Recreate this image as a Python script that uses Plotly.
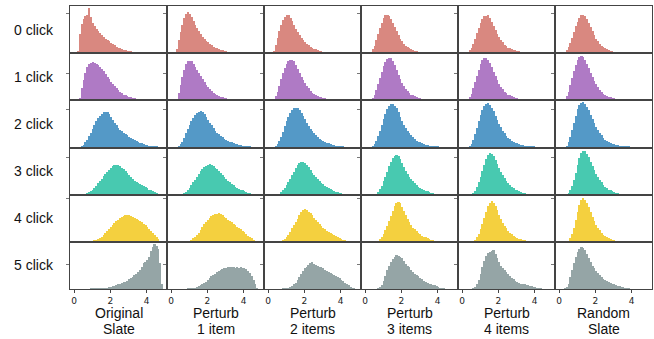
import plotly.graph_objects as go
from plotly.subplots import make_subplots

# ---------------- data (relative bar height, % of panel height) ----------------
# bins are 0.1 wide, starting at x = 0.0
BIN_WIDTH = 0.1

row_labels = ["0 click", "1 click", "2 click", "3 click", "4 click", "5 click"]
col_titles = [["Original", "Slate"], ["Perturb", "1 item"], ["Perturb", "2 items"],
              ["Perturb", "3 items"], ["Perturb", "4 items"], ["Random", "Slate"]]
colors = ["#D98880", "#AF7AC5", "#5499C7", "#48C9B0", "#F4D03F", "#95A5A6"]
x_ticks = [0, 2, 4]
y_tick_per_row = [84, 57, 80, 78, 91, 53]

click0 = [
    [0,0,5,40,62,72,78,80,95,76, 64,58,52,47,42,38,34,30,27,25, 22,19,17,14,12,10,9,7,6,5, 4,4,3,3,2,2,1,1,1,0.5, 0.5],
    [0,0,0,8,28,45,60,75,84,87, 83,76,68,60,53,46,40,35,30,26, 23,20,17,14,12,10,9,7,6,5, 4,3,3,2,2,1,1,1,0.5],
    [0,0,0,5,18,32,47,60,70,77, 81,80,75,68,60,52,45,39,33,28, 24,20,17,14,11,9,8,6,5,4, 3,3,2,2,1,1,1,0.5],
    [0,0,0,2,8,15,27,40,53,65, 74,80,81,78,72,64,55,46,38,31, 25,20,16,13,10,8,6,5,4,3, 3,2,2,1,1,1,0.5],
    [0,0,0,2,6,12,20,30,42,54, 65,73,79,78,80,74,67,58,49,41, 34,28,23,18,15,12,10,8,7,6, 5,4,3,3,2,2,1,1,0.5],
    [0,0,0,2,6,13,22,33,45,57, 67,75,80,81,78,72,64,55,46,38, 31,25,20,16,13,10,8,6,5,4, 3,3,2,2,1,1,0.5],
]
click1 = [
    [0,0,0,5,25,42,58,70,77,79, 80,79,77,74,70,66,61,56,50,44, 39,34,29,25,21,18,15,12,10,8, 7,6,5,4,3,2,2,1,1,0.5],
    [0,0,0,3,15,32,50,65,76,82, 84,82,77,71,65,58,52,45,39,33, 28,24,20,16,13,11,9,7,6,5, 4,3,2,2,1,1,0.5],
    [0,0,0,2,8,18,30,44,57,68, 77,83,86,86,82,75,67,58,50,43, 36,30,25,20,16,13,11,9,7,6, 5,4,3,2,2,1,1,0.5],
    [0,0,0,1,5,12,22,34,47,60, 72,81,87,90,89,83,74,64,54,45, 37,30,24,19,15,12,10,8,6,5, 4,3,2,2,1,1,0.5],
    [0,0,0,1,6,14,25,38,52,65, 76,85,90,90,86,79,70,60,51,42, 35,28,23,18,15,12,10,8,6,5, 4,3,2,2,1,1,0.5],
    [0,0,0,2,8,18,32,47,62,75, 85,92,94,91,85,77,68,58,49,41, 34,28,22,18,14,11,9,7,6,5, 4,3,2,2,1,1,0.5],
]
click2 = [
    [0,0,0,0,2,5,10,16,23,31, 39,47,55,62,67,71,74,75,74,70, 64,58,52,46,41,37,34,31,28,25, 22,19,17,15,13,11,9,8,6,5, 4,3,2,2,1,0.5],
    [0,0,0,0,2,6,12,20,29,38, 47,55,62,68,72,75,76,74,70,64, 58,52,46,40,35,31,27,24,21,18, 16,14,12,10,8,7,6,5,4,3, 2,1,1,0.5],
    [0,0,0,0,2,6,13,22,33,44, 55,64,72,78,82,84,83,79,73,66, 59,52,45,39,34,29,25,21,18,15, 13,11,9,8,6,5,4,3,2,2, 1,0.5],
    [0,0,0,0,2,6,13,23,35,48, 60,71,80,87,91,91,88,82,74,65, 56,48,41,35,29,25,21,17,14,12, 10,8,7,5,4,3,3,2,1,1, 0.5],
    [0,0,0,0,2,7,15,27,41,55, 68,79,87,92,93,90,84,76,67,58, 50,42,35,29,24,20,17,14,11,9, 8,6,5,4,3,2,2,1,1,0.5],
    [0,0,0,0,3,10,21,36,52,67, 80,89,94,95,92,86,78,69,60,51, 43,36,30,25,20,16,13,11,9,7, 6,5,4,3,2,2,1,1,0.5],
]
click3 = [
    [0,0,0,0,0,1,2,4,6,9, 12,16,20,25,30,35,40,45,50,54, 58,61,63,64,63,61,58,55,51,47, 43,39,35,31,28,26,24,22,20,18, 15,12,10,8,6,4,3,1],
    [0,0,0,0,0,1,2,4,7,11, 16,21,27,33,39,45,51,56,60,62, 64,67,63,61,58,55,51,47,42,38, 34,30,27,24,21,18,16,14,12,10, 8,6,5,4,3,2,1],
    [0,0,0,0,0,1,3,6,10,15, 21,28,35,42,50,57,63,68,70,70, 68,64,59,53,48,43,38,34,30,26, 23,20,17,15,13,11,9,7,6,5, 4,3,2,1,1],
    [0,0,0,0,0,1,3,7,13,20, 29,39,50,61,71,79,84,85,82,76, 68,60,52,45,39,34,29,25,21,18, 15,13,11,9,8,6,5,4,3,2, 1,1],
    [0,0,0,0,0,1,4,9,17,27, 39,52,65,76,85,89,88,83,75,66, 57,49,42,36,30,25,21,18,15,12, 10,8,7,5,4,3,2,2,1,1],
    [0,0,0,0,1,4,10,20,33,48, 64,78,89,94,93,88,80,71,62,53, 45,38,32,27,22,18,15,12,10,8, 7,5,4,3,3,2,1,1,0.5],
]
click4 = [
    [0,0,0,0,0,0,0,0,1,2, 3,4,5,7,9,12,15,19,24,28, 32,36,40,44,48,51,54,56,57,58, 57,56,54,52,50,48,45,42,39,36, 32,28,24,20,16,11,7,3,1],
    [0,0,0,0,0,0,0,0,1,2, 3,5,8,11,15,20,26,32,38,43, 48,52,55,58,60,60,62,59,57,54, 51,48,45,42,39,36,33,30,27,24, 21,18,14,11,8,5,3,1],
    [0,0,0,0,0,0,1,2,4,7, 11,16,22,29,36,43,50,57,63,68, 71,68,65,61,57,52,47,42,38,34, 30,27,24,21,19,17,15,13,11,9, 7,5,4,3,2,1],
    [0,0,0,0,0,0,1,3,6,11, 17,25,34,45,56,67,76,82,86,82, 75,66,57,49,42,36,31,27,23,20, 17,14,12,10,8,7,5,4,3,2, 1,1],
    [0,0,0,0,0,1,2,5,10,17, 27,39,52,65,76,84,87,84,77,68, 58,49,41,35,29,24,20,17,14,11, 9,7,6,5,4,3,2,1,1],
    [0,0,0,0,1,3,8,17,30,46, 63,78,89,93,90,83,74,64,54,45, 37,30,25,20,16,13,10,8,6,5, 4,3,2,2,1,1],
]
click5 = [
    [0,0,0,0,0,0,0,0,0,1, 0.5,0.5,1,1,1.5,2,2,3,3,4, 5,6,7,8,10,11,13,15,16,18, 21,24,26,30,33,37,41,48,55,58, 62,68,80,90,95,92,85,55,10],
    [0,0,0,0,0,0,0,0,0,0.5, 1,1,2,3,4,6,8,10,13,16, 19,23,27,30,33,36,38,40,43,45, 44,47,46,48,46,45,47,45,46,44, 45,42,39,34,28,20,10,3],
    [0,0,0,0,0,0,0,0,0.5,1, 2,3,5,7,10,14,19,25,32,38, 44,48,52,55,58,54,52,50,48,46, 44,41,39,37,34,32,30,28,26,23, 20,17,14,11,8,5,3,1],
    [0,0,0,0,0,0,0,1,4,9, 17,28,40,50,58,64,68,72,70,68, 66,60,54,50,46,41,37,33,30,27, 24,21,18,16,14,12,10,9,8,7, 5,3,2,1],
    [0,0,0,0,0,0,1,4,10,20, 33,48,60,70,76,78,80,83,74,66, 58,50,44,40,36,32,28,24,21,18, 16,14,12,11,10,9,8,7,6,5, 4,3,2,1],
    [0,0,0,1,4,12,25,40,55,68, 78,85,90,87,82,74,66,58,50,44, 38,34,30,26,22,19,17,15,13,11, 10,8,7,6,5,4,3,2,1],
]
rows_data = [click0, click1, click2, click3, click4, click5]

# ---------------- figure ----------------
W, H = 654, 339
ML, MR, MT, MB = 70, 2, 6, 50
NR, NC = 6, 6

fig = make_subplots(rows=NR, cols=NC, horizontal_spacing=0, vertical_spacing=0)

for r, row_vals in enumerate(rows_data):
    for c, vals in enumerate(row_vals):
        centers = [(i + 0.5) * BIN_WIDTH for i in range(len(vals))]
        fig.add_trace(go.Bar(x=centers, y=vals, width=BIN_WIDTH,
                             marker=dict(color=colors[r], line=dict(width=0)),
                             showlegend=False, hoverinfo="skip"),
                      row=r + 1, col=c + 1)
        fig.update_yaxes(range=[0, 100], tickvals=[y_tick_per_row[r]], ticks="outside",
                         ticklen=3, tickwidth=1, tickcolor="#777", showticklabels=False,
                         showgrid=False, zeroline=False, showline=True, mirror=True,
                         linecolor="#444", linewidth=1, row=r + 1, col=c + 1)
        bottom = (r == NR - 1)
        fig.update_xaxes(range=[-0.22, 5.12], tickvals=x_ticks,
                         ticks="outside" if bottom else "", ticklen=3, tickwidth=1,
                         tickcolor="#444", showticklabels=bottom,
                         tickfont=dict(family="DejaVu Sans", size=9, color="#222"),
                         showgrid=False, zeroline=False, showline=True, mirror=True,
                         linecolor="#444", linewidth=1, row=r + 1, col=c + 1)

plot_w = W - ML - MR
plot_h = H - MT - MB
annotations = []
for r, lab in enumerate(row_labels):
    yc = 1 - (r + 0.5) / NR
    annotations.append(dict(text=lab, xref="paper", yref="paper",
                            x=(56 - ML) / plot_w, y=yc, xanchor="right", yanchor="middle",
                            showarrow=False,
                            font=dict(family="Liberation Sans", size=14, color="#111")))
for c, lines in enumerate(col_titles):
    xc = (c + 0.5) / NC
    for k, line in enumerate(lines):
        ypix = 313 + 16 * k
        annotations.append(dict(text=line, xref="paper", yref="paper",
                                x=xc, y=(MT + plot_h - ypix) / plot_h,
                                xanchor="center", yanchor="middle", showarrow=False,
                                font=dict(family="Liberation Sans", size=14, color="#111")))

fig.update_layout(width=W, height=H, margin=dict(l=ML, r=MR, t=MT, b=MB),
                  paper_bgcolor="white", plot_bgcolor="white",
                  bargap=0, barmode="overlay", showlegend=False,
                  annotations=annotations)

fig.write_html("out.html", config={"displayModeBar": False},
               post_script="document.body.style.margin='0';document.body.style.padding='0';")
